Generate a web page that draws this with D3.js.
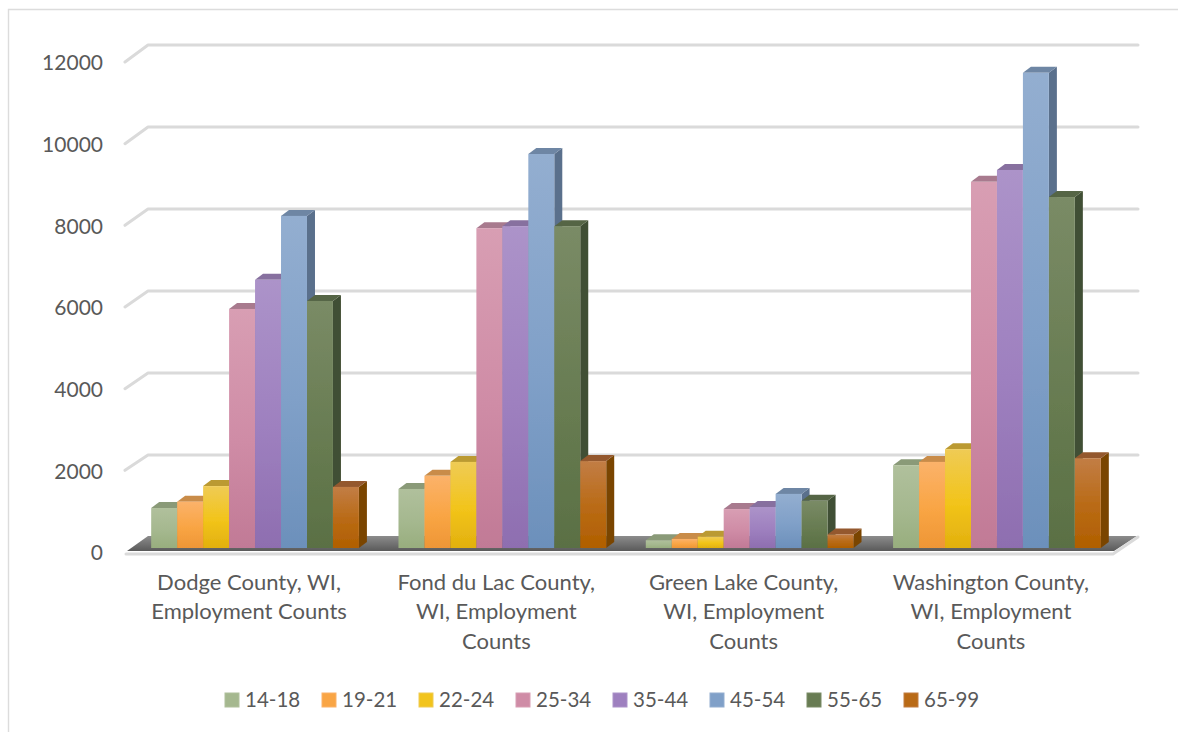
<!DOCTYPE html>
<html><head><meta charset="utf-8">
<script src="https://cdn.jsdelivr.net/npm/d3@7"></script>
<style>html,body{margin:0;padding:0;background:#fff}svg{display:block}text{font-family:Lato,"Open Sans",sans-serif;fill:#595959}</style>
</head><body><svg id="c" width="1178" height="732"></svg>
<script>
const categories=["Dodge County, WI, Employment Counts","Fond du Lac County, WI, Employment Counts","Green Lake County, WI, Employment Counts","Washington County, WI, Employment Counts"];
const categoryLines=[["Dodge County, WI,","Employment Counts"],["Fond du Lac County,","WI, Employment","Counts"],["Green Lake County,","WI, Employment","Counts"],["Washington County,","WI, Employment","Counts"]];
const seriesNames=["14-18","19-21","22-24","25-34","35-44","45-54","55-65","65-99"];
const s1418=[975,1440,190,2020];
const s1921=[1130,1760,220,2100];
const s2224=[1510,2100,275,2410];
const s2534=[5830,7800,950,8930];
const s3544=[6540,7850,1000,9220];
const s4554=[8100,9610,1320,11590];
const s5565=[6025,7850,1150,8560];
const s6599=[1490,2120,330,2190];
const seriesValues=[s1418,s1921,s2224,s2534,s3544,s4554,s5565,s6599];
const yTicks=[0,2000,4000,6000,8000,10000,12000];
const frontLight=["#b0c09c","#fbb26a","#efcb55","#d89eb3","#ac93c9","#93aed0","#7a8b66","#c27d45"];
const frontMid=["#a5b88f","#f9a544","#f2c41a","#cf8ca6","#9e80bf","#80a0c8","#687c52","#b96a14"];
const frontDark=["#98ae7e","#ee9636","#e2b00e","#c17a96","#8e6eb0","#6c90bb","#5a7044","#b05f00"];
const topCol=["#8a9a78","#c98c4a","#bb9a30","#a87a8e","#87709f","#6e86a4","#556545","#94592f"];
const sideCol=["#76856a","#a96a24","#a08416","#8f5c72","#6c5386","#5a6f8c","#414f34","#7a4505"];

const svg=d3.select("#c");
const defs=svg.append("defs");
seriesNames.forEach((n,i)=>{
  const g=defs.append("linearGradient").attr("id","g"+i).attr("x1",0).attr("y1",0).attr("x2",0).attr("y2",1);
  g.append("stop").attr("offset","0%").attr("stop-color",frontLight[i]);
  g.append("stop").attr("offset","55%").attr("stop-color",frontMid[i]);
  g.append("stop").attr("offset","100%").attr("stop-color",frontDark[i]);
});
const floorG=defs.append("linearGradient").attr("id","floor").attr("x1",0).attr("y1",0).attr("x2",0).attr("y2",1);
floorG.append("stop").attr("offset","0%").attr("stop-color","#8c8c8c");
floorG.append("stop").attr("offset","100%").attr("stop-color","#5a5a5a");
defs.append("filter").attr("id","soft").append("feGaussianBlur").attr("stdDeviation",0.5);

svg.append("path").attr("d","M8.5,732V9.5H1178").attr("fill","none").attr("stroke","#dcdcdc").attr("stroke-width",1.4);

const y=d3.scaleLinear().domain([0,12000]).range([548,56]);
const x0=d3.scaleBand().domain(categories).range([131.4,1120.6]).paddingInner(0.16).paddingOuter(0.08);
const x1=d3.scaleBand().domain(seriesNames).range([0,x0.bandwidth()]);
const dx=8,dy=6;
const backX=148,backR=1138,frontX=124,frontR=1113,backDy=-11,frontDy=4;

const plot=svg.append("g").attr("filter","url(#soft)");
plot.append("path").attr("d",`M${frontX+3},${y(0)+frontDy-1}L${backX},${y(0)+backDy-1}H${backR-1}L${frontR+1},${y(0)+frontDy-1}Z`)
  .attr("fill","url(#floor)");
plot.append("g").selectAll("path").data(yTicks).join("path")
  .attr("d",d=>{
    const yb=y(d)+backDy, yf=y(d)+frontDy+(d>0?2*d/12000:0);
    return d===0?`M${frontX+2},${yf+2}H${frontR}L${backR},${yb}`:`M${frontX+1},${yf}L${backX},${yb}H${backR}`;
  })
  .attr("fill","none").attr("stroke","#dadada").attr("stroke-width",3).attr("stroke-linecap","round").attr("stroke-linejoin","round");

const groups=plot.append("g").selectAll("g").data(categories).join("g").attr("transform",d=>`translate(${x0(d)},0)`);
const bars=groups.selectAll("g").data((c,ci)=>seriesNames.map((s,si)=>({s,si,v:seriesValues[si][ci]}))).join("g");
const w=x1.bandwidth();
bars.append("path").attr("fill",d=>sideCol[d.si])
  .attr("d",d=>{const X=x1(d.s)+w,T=y(d.v),B=y(0);return `M${X},${T}l${dx},${-dy}V${B-dy}l${-dx},${dy}Z`;});
bars.append("path").attr("fill",d=>topCol[d.si])
  .attr("d",d=>{const X=x1(d.s),T=y(d.v);return `M${X},${T}l${dx},${-dy}h${w}l${-dx},${dy}Z`;});
bars.append("rect").attr("x",d=>x1(d.s)).attr("y",d=>y(d.v)).attr("width",w).attr("height",d=>y(0)-y(d.v)).attr("fill",d=>`url(#g${d.si})`);

const labelY=d3.scaleLinear().domain([0,12000]).range([553,63]);
const axis=svg.append("g").attr("transform","translate(103,0)").call(d3.axisLeft(labelY).tickValues(yTicks).tickSize(0).tickPadding(0).tickFormat(d3.format("d")));
axis.select(".domain").remove();
axis.selectAll("text").style("font-size","21px").style("font-family","Lato").style("fill","#595959");

const catG=svg.append("g").selectAll("text").data(categories).join("text")
  .attr("text-anchor","middle").style("font-size","22px");
catG.each(function(c,i){
  d3.select(this).selectAll("tspan").data(categoryLines[i]).join("tspan")
    .attr("x",x0(c)+x0.bandwidth()/2-6).attr("y",(d,k)=>590+k*29.3).text(d=>d);
});

const lx=d3.scaleBand().domain(seriesNames).range([225,225+97*8]);
const lg=svg.append("g").selectAll("g").data(seriesNames).join("g").attr("transform",d=>`translate(${lx(d)},0)`);
lg.append("rect").attr("x",0).attr("y",693).attr("width",14).attr("height",14)
  .attr("fill",(d,i)=>frontMid[i]).attr("stroke",(d,i)=>frontLight[i]).attr("stroke-width",1).attr("filter","url(#soft)");
lg.append("text").attr("x",20).attr("y",707).style("font-size","20.5px").text(d=>d);
</script></body></html>
